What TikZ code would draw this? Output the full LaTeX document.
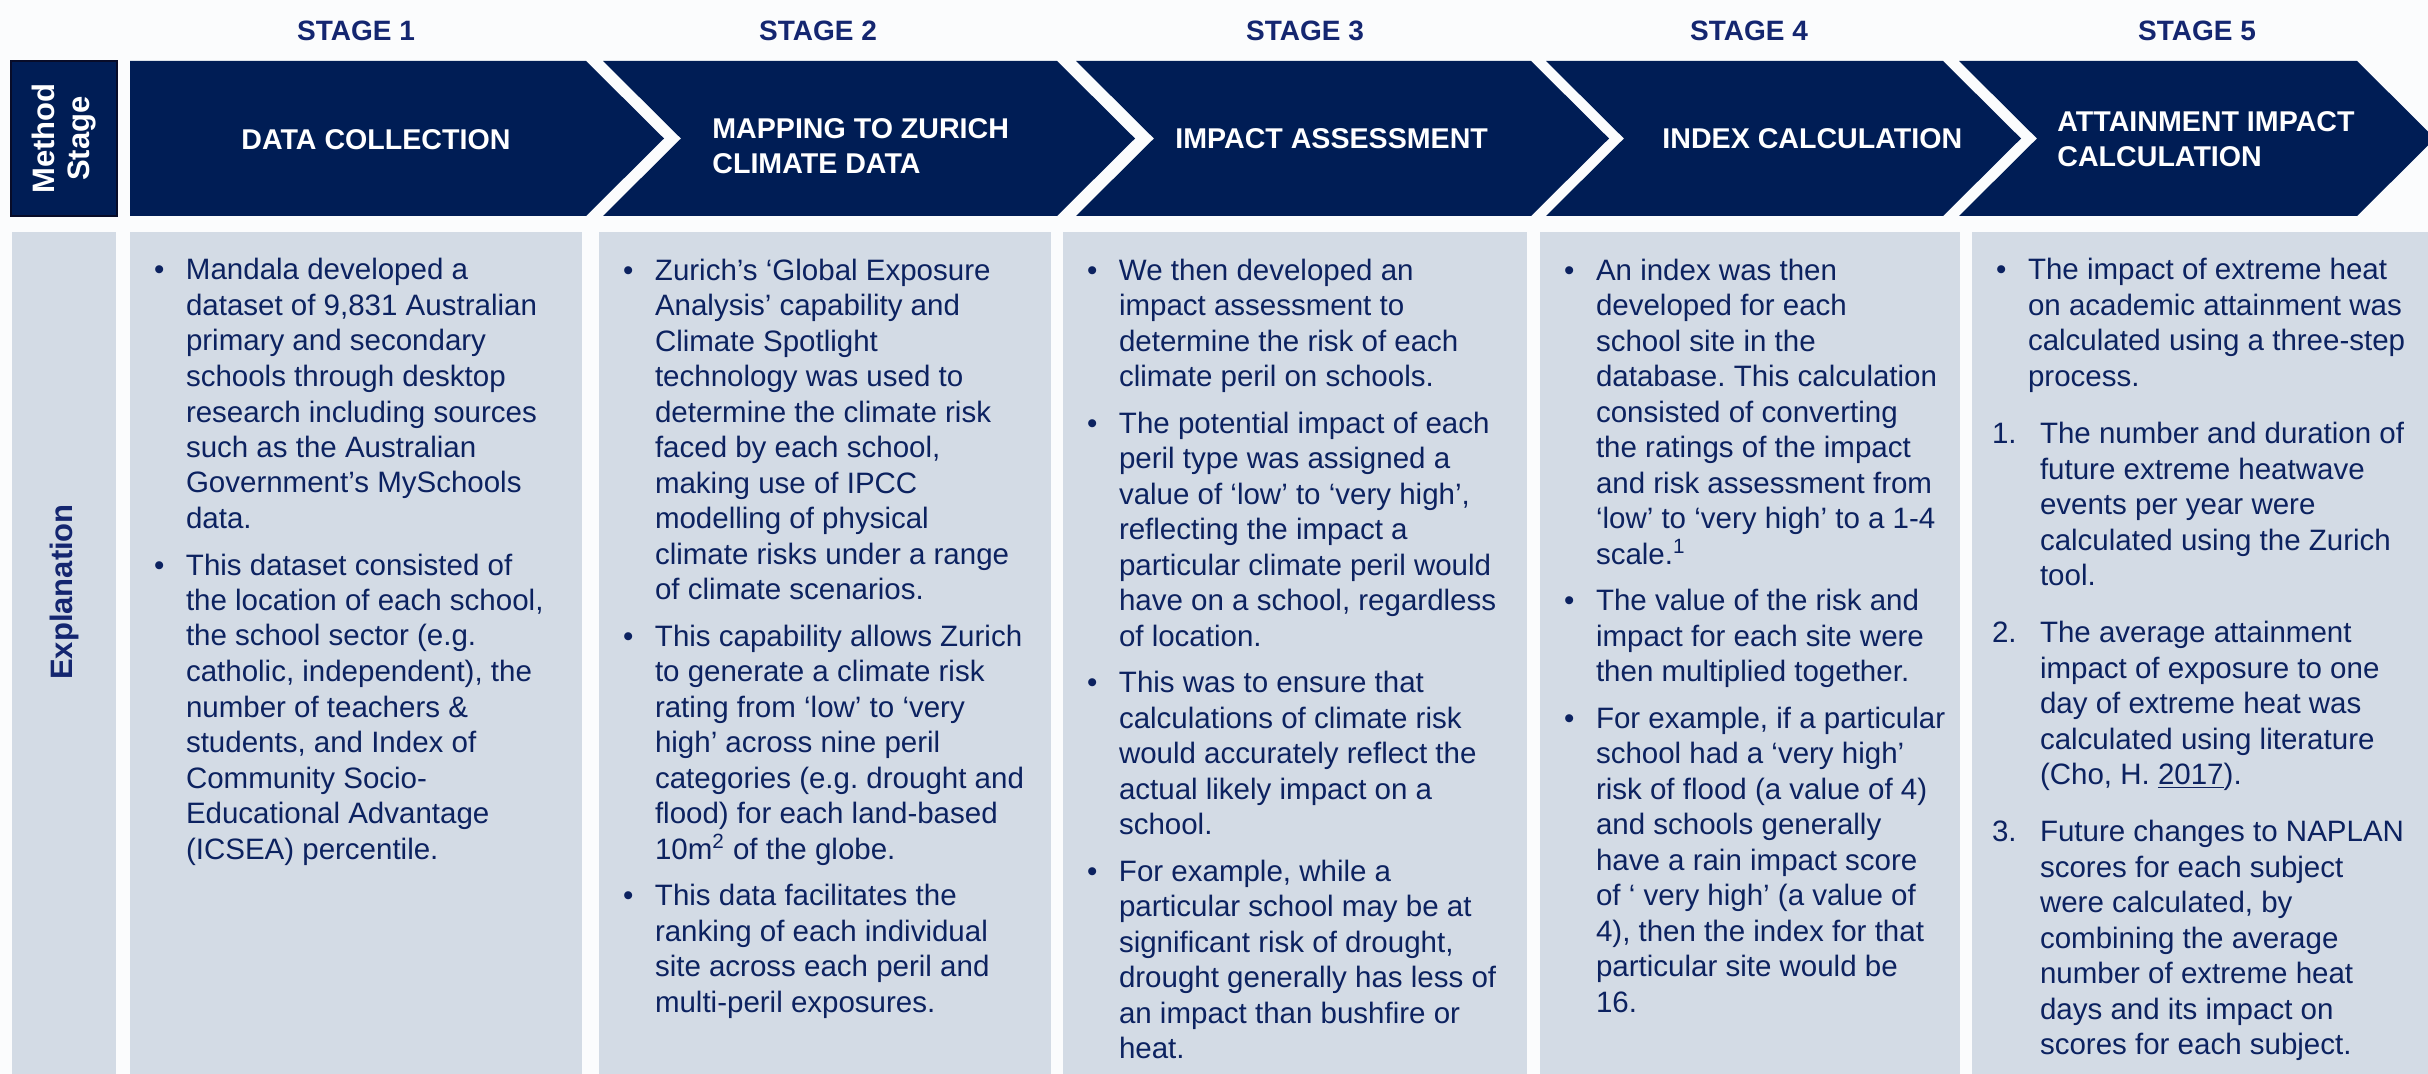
\documentclass[tikz,border=0pt]{standalone}
\usepackage{fontspec}
\setmainfont{Liberation Sans}
\usetikzlibrary{positioning}
\definecolor{navy}{RGB}{0,29,85}
\definecolor{stagenavy}{RGB}{20,38,112}
\definecolor{bodynavy}{RGB}{12,34,96}
\definecolor{panel}{RGB}{211,219,229}
\definecolor{paper}{RGB}{251,252,253}
\newcommand{\bul}{\textbullet}
\frenchspacing
\begin{document}
\begin{tikzpicture}[x=0.5pt,y=-0.5pt,
  stagelabel/.style={anchor=base,inner sep=0,text=stagenavy,font=\fontsize{14}{17}\selectfont\bfseries},
  heading/.style={anchor=base west,inner sep=0,text=white,font=\fontsize{14.3}{17.25}\selectfont\bfseries},
  bodytext/.style={anchor=north west,inner sep=0,outer sep=0,text=bodynavy,font=\fontsize{14.75}{17.75}\selectfont},
  sidelabel/.style={rotate=90,align=center,inner sep=0,font=\fontsize{15.5}{17.5}\selectfont\bfseries}]
  \useasboundingbox[fill=paper] (0,0) rectangle (2428,1074);

  % Stage labels.
  \foreach \x/\n in {356/1,818/2,1305/3,1749/4,2197/5}
    \node[stagelabel] (stage\n) at (\x,41) {STAGE \n};

  % Method stage row.
  \filldraw[fill=navy,draw={rgb,255:red,8;green,12;blue,40},line width=1pt] (11,61) rectangle (117,216);
  \node[sidelabel,text=white] (method) at (64,138.5) {Method\\Stage};
  \fill[navy] (130,61) -- (586,61) -- (664,138.5) -- (586,216) -- (130,216) -- cycle;
  \foreach \l/\r in {603/1057,1076/1531,1546/1943,1959/2357}
    \fill[navy] (\l,61) -- (\r,61) -- ({\r+78},138.5) -- (\r,216) -- (\l,216) -- ({\l+78},138.5) -- cycle;
  \node[heading] (head1) at (241,149.5) {DATA COLLECTION};
  \node[heading] (head2) at (712,139) {\begin{tabular}[t]{@{}l@{}}MAPPING TO ZURICH\\CLIMATE DATA\end{tabular}};
  \node[heading] (head3) at (1175,149) {IMPACT ASSESSMENT};
  \node[heading] (head4) at (1662,149) {INDEX CALCULATION};
  \node[heading] (head5) at (2057,132) {\begin{tabular}[t]{@{}l@{}}ATTAINMENT IMPACT\\CALCULATION\end{tabular}};

  % Explanation row.
  \fill[panel] (12,232) rectangle (116,1074);
  \foreach \l/\r in {130/582,599/1051,1063/1527,1540/1960,1972/2440}
    \fill[panel] (\l,232) rectangle (\r,1074);
  \node[sidelabel,text=stagenavy] (expl) at (64,592) {Explanation};

  \node[bodytext] (txt1) at (154,255.15) {\begin{tabular}{@{}p{16pt}@{}l@{}}
    \bul & Mandala developed a\\
    & dataset of 9,831 Australian\\
    & primary and secondary\\
    & schools through desktop\\
    & research including sources\\
    & such as the Australian\\
    & Government’s MySchools\\
    & data.\\[5.5pt]
    \bul & This dataset consisted of\\
    & the location of each school,\\
    & the school sector (e.g.\\
    & catholic, independent), the\\
    & number of teachers \&\\
    & students, and Index of\\
    & Community Socio-\\
    & Educational Advantage\\
    & (ICSEA) percentile.
  \end{tabular}};

  \node[bodytext] (txt2) at (623,255.15) {\begin{tabular}{@{}p{16pt}@{}l@{}}
    \bul & Zurich’s ‘Global Exposure\\
    & Analysis’ capability and\\
    & Climate Spotlight\\
    & technology was used to\\
    & determine the climate risk\\
    & faced by each school,\\
    & making use of IPCC\\
    & modelling of physical\\
    & climate risks under a range\\
    & of climate scenarios.\\[5.5pt]
    \bul & This capability allows Zurich\\
    & to generate a climate risk\\
    & rating from ‘low’ to ‘very\\
    & high’ across nine peril\\
    & categories (e.g. drought and\\
    & flood) for each land-based\\
    & 10m\textsuperscript{2} of the globe.\\[5.5pt]
    \bul & This data facilitates the\\
    & ranking of each individual\\
    & site across each peril and\\
    & multi-peril exposures.
  \end{tabular}};

  \node[bodytext] (txt3) at (1087,255.15) {\begin{tabular}{@{}p{16pt}@{}l@{}}
    \bul & We then developed an\\
    & impact assessment to\\
    & determine the risk of each\\
    & climate peril on schools.\\[5.5pt]
    \bul & The potential impact of each\\
    & peril type was assigned a\\
    & value of ‘low’ to ‘very high’,\\
    & reflecting the impact a\\
    & particular climate peril would\\
    & have on a school, regardless\\
    & of location.\\[5.5pt]
    \bul & This was to ensure that\\
    & calculations of climate risk\\
    & would accurately reflect the\\
    & actual likely impact on a\\
    & school.\\[5.5pt]
    \bul & For example, while a\\
    & particular school may be at\\
    & significant risk of drought,\\
    & drought generally has less of\\
    & an impact than bushfire or\\
    & heat.
  \end{tabular}};

  \node[bodytext] (txt4) at (1564,255.15) {\begin{tabular}{@{}p{16pt}@{}l@{}}
    \bul & An index was then\\
    & developed for each\\
    & school site in the\\
    & database. This calculation\\
    & consisted of converting\\
    & the ratings of the impact\\
    & and risk assessment from\\
    & ‘low’ to ‘very high’ to a 1-4\\
    & scale.\textsuperscript{1}\\[5.5pt]
    \bul & The value of the risk and\\
    & impact for each site were\\
    & then multiplied together.\\[5.5pt]
    \bul & For example, if a particular\\
    & school had a ‘very high’\\
    & risk of flood (a value of 4)\\
    & and schools generally\\
    & have a rain impact score\\
    & of ‘ very high’ (a value of\\
    & 4), then the index for that\\
    & particular site would be\\
    & 16.
  \end{tabular}};

  \node[bodytext] (txt5) at (1996,255.15) {\begin{tabular}{@{}p{16pt}@{}l@{}}
    \bul & The impact of extreme heat\\
    & on academic attainment was\\
    & calculated using a three-step\\
    & process.
  \end{tabular}};
  \node[bodytext,below right=10.75pt and -2pt of txt5.south west] (steps5) {\begin{tabular}{@{}p{24pt}@{}l@{}}
    1. & The number and duration of\\
    & future extreme heatwave\\
    & events per year were\\
    & calculated using the Zurich\\
    & tool.\\[10.75pt]
    2. & The average attainment\\
    & impact of exposure to one\\
    & day of extreme heat was\\
    & calculated using literature\\
    & (Cho, H. \underline{2017}).\\[10.75pt]
    3. & Future changes to NAPLAN\\
    & scores for each subject\\
    & were calculated, by\\
    & combining the average\\
    & number of extreme heat\\
    & days and its impact on\\
    & scores for each subject.
  \end{tabular}};
\end{tikzpicture}
\end{document}
